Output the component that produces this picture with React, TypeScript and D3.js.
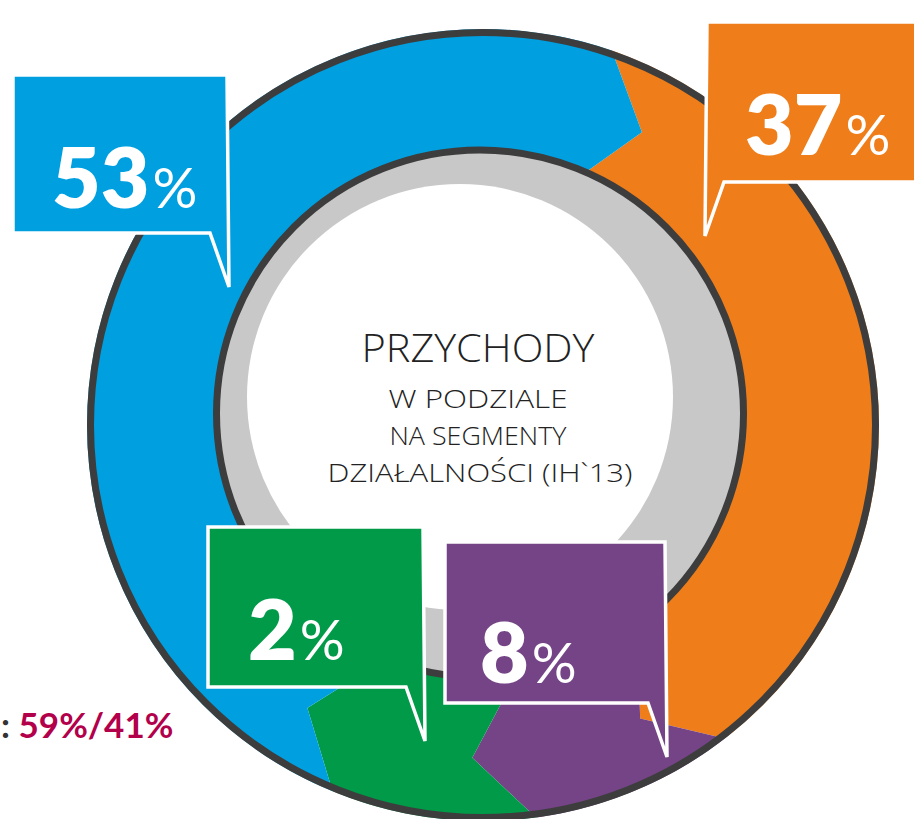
import React from 'react';
import * as d3 from 'd3';

// segment shares, clockwise from the top-right boundary
const shareValues = [37, 8, 2, 53];
const segmentColors = ['#ee7d1a', '#744487', '#009a48', '#009fe0'];
const titleLines = ['PRZYCHODY', 'W PODZIALE', 'NA SEGMENTY', 'DZIAŁALNOŚCI (IH`13)'];
const splitShares = ['59%', '41%'];

// small slices are widened so they stay visible (as in the original graphic)
const MIN_SHARE = 9;

const W = 914;
const H = 819;
const CX = 483;
const CY = 425;
const R_OUT = 396;
const R_FAR = 460;
const R_APEX = 333;
const R_IN = 272;
const R_NEAR = 150;

const rad = (d: number) => (d * Math.PI) / 180;
const START = rad(22);
const OUTER_SHIFT = rad(-3);
const APEX_SHIFT = rad(6.5);

// callout boxes (annotation layout, same order as the shares)
const calloutLayout = [
  {x0: 707, y0: 22, x1: 924, y1: 182, tail: 'left', tx: 745, ty: 155},
  {x0: 445, y0: 542, x1: 665, y1: 703, tail: 'right', tx: 480, ty: 683},
  {x0: 208, y0: 527, x1: 423, y1: 687, tail: 'right', tx: 248, ty: 660},
  {x0: 13, y0: 75, x1: 227, y1: 233, tail: 'right', tx: 52, ty: 208},
];

const pt = (a: number, r: number): [number, number] => [CX + r * Math.sin(a), CY - r * Math.cos(a)];

function boundary(a: number): [number, number][] {
  return [
    pt(a + OUTER_SHIFT, R_FAR),
    pt(a + OUTER_SHIFT, R_OUT),
    pt(a + APEX_SHIFT, R_APEX),
    pt(a, R_IN),
    pt(a, R_NEAR),
  ];
}

function slicePath(a0: number, a1: number) {
  const p = d3.path();
  const b0 = boundary(a0);
  const b1 = boundary(a1).reverse();
  p.moveTo(b0[0][0], b0[0][1]);
  b0.slice(1).forEach(q => p.lineTo(q[0], q[1]));
  p.arc(CX, CY, R_NEAR, a0 - Math.PI / 2, a1 - Math.PI / 2, false);
  b1.forEach(q => p.lineTo(q[0], q[1]));
  p.arc(CX, CY, R_FAR, a1 + OUTER_SHIFT - Math.PI / 2, a0 + OUTER_SHIFT - Math.PI / 2, true);
  p.closePath();
  return p.toString();
}

function calloutPath(c: any) {
  const tailH = 54;
  const tailW = 17;
  const p = d3.path();
  p.moveTo(c.x0, c.y0);
  p.lineTo(c.x1, c.y0);
  if (c.tail === 'right') {
    p.lineTo(c.x1 + 2, c.y1 + tailH);
    p.lineTo(c.x1 - tailW, c.y1);
    p.lineTo(c.x0, c.y1);
  } else {
    p.lineTo(c.x1, c.y1);
    p.lineTo(c.x0 + tailW, c.y1);
    p.lineTo(c.x0 - 2, c.y1 + tailH);
  }
  p.closePath();
  return p.toString();
}

export default function App() {
  const pie = d3
    .pie<number>()
    .sort(null)
    .value(v => Math.max(v, MIN_SHARE))
    .startAngle(START)
    .endAngle(START + 2 * Math.PI);
  const arcs = pie(shareValues);

  return (
    <svg
      width={W}
      height={H}
      viewBox={`0 0 ${W} ${H}`}
      style={{position: 'absolute', left: 0, top: 0, background: '#fff'}}
    >
      <defs>
        <clipPath id="ring-clip">
          <circle cx={CX} cy={CY} r={R_OUT} />
        </clipPath>
      </defs>

      {/* coloured ring */}
      <g clipPath="url(#ring-clip)">
        {arcs.map((a, i) => (
          <path key={i} d={slicePath(a.startAngle, a.endAngle)} fill={segmentColors[i]} />
        ))}
      </g>
      <circle cx={CX} cy={CY} r={R_OUT - 3.5} fill="none" stroke="#3d3d3d" strokeWidth={7} />

      {/* inner grey ring and white centre */}
      <circle cx={480} cy={413.5} r={263.5} fill="#c8c8c8" stroke="#3d3d3d" strokeWidth={7} />
      <circle cx={460} cy={397} r={213} fill="#fff" />

      {/* centre title */}
      <g fontFamily="'Open Sans', sans-serif" fontWeight={300} fill="#222" textAnchor="middle">
        <text x={478} y={362} fontSize={38} textLength={233} lengthAdjust="spacingAndGlyphs">
          {titleLines[0]}
        </text>
        <text x={478} y={408} fontSize={25} textLength={179} lengthAdjust="spacingAndGlyphs">
          {titleLines[1]}
        </text>
        <text x={478} y={445} fontSize={25} textLength={177} lengthAdjust="spacingAndGlyphs">
          {titleLines[2]}
        </text>
        <text x={480} y={482} fontSize={25} textLength={305} lengthAdjust="spacingAndGlyphs">
          {titleLines[3]}
        </text>
      </g>

      {/* callouts */}
      {arcs.map((a, i) => {
        const c = calloutLayout[i];
        return (
          <g key={'c' + i}>
            <path
              d={calloutPath(c)}
              fill={segmentColors[i]}
              stroke="#fff"
              strokeWidth={3.5}
              strokeLinejoin="miter"
            />
            <text x={c.tx} y={c.ty} fill="#fff" fontFamily="Lato, 'Open Sans', sans-serif">
              <tspan fontSize={84} fontWeight={800}>{String(a.data)}</tspan>
              <tspan dx={3} fontSize={56} fontWeight={400}>%</tspan>
            </text>
          </g>
        );
      })}

      {/* cut-off note at the bottom left */}
      <text x={1} y={738} fontFamily="Lato, sans-serif" fontSize={35} fontWeight={700}>
        <tspan fill="#333">: </tspan>
        <tspan fill="#b3004b">{splitShares.join('/')}</tspan>
      </text>
    </svg>
  );
}
